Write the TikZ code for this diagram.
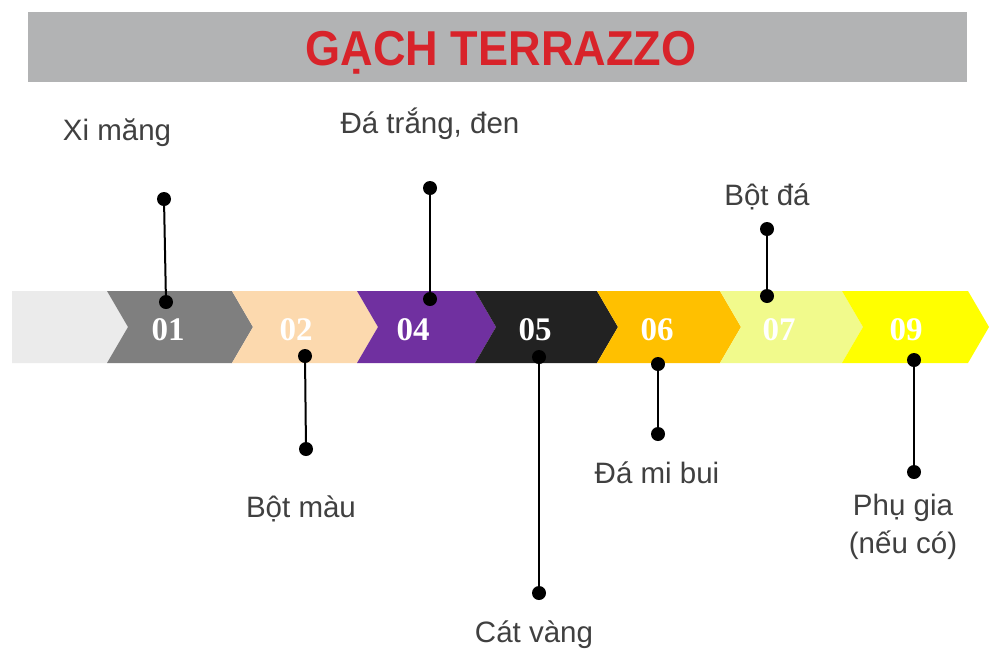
\documentclass[tikz,border=0pt]{standalone}
\usepackage{fontspec}
\setmainfont{Liberation Sans}
\newfontfamily\numfont{Liberation Serif}
\usetikzlibrary{calc}
\definecolor{titlebar}{HTML}{B2B3B4}
\definecolor{titlered}{HTML}{D8232A}
\definecolor{labelgray}{HTML}{404040}
\definecolor{cLight}{HTML}{EBEBEB}
\definecolor{cGray}{HTML}{7F7F7F}
\definecolor{cPeach}{HTML}{FCD9AE}
\definecolor{cPurple}{HTML}{7030A0}
\definecolor{cBlack}{HTML}{222222}
\definecolor{cOrange}{HTML}{FFC000}
\definecolor{cPaleY}{HTML}{F1FA8C}
\definecolor{cYellow}{HTML}{FFFF00}
\begin{document}
\begin{tikzpicture}[x=1pt,y=-1pt,
  dotmark/.style={circle,fill=black,inner sep=0pt,minimum size=14pt},
  leader/.style={line width=2pt,black},
  lbl/.style={text=labelgray,font=\fontsize{29.5}{37}\selectfont,inner sep=0pt,anchor=base,align=center},
  num/.style={text=white,font=\numfont\bfseries\fontsize{33}{36}\selectfont,inner sep=0pt,anchor=base}]
\useasboundingbox (0,0) rectangle (999,662);
\fill[white] (0,0) rectangle (999,662);
% title bar
\fill[titlebar] (28,12) rectangle (967,82);
\node[text=titlered,inner sep=0pt,anchor=base] (title) at (501,65)
  {\scalebox{0.92}[1]{\fontsize{49}{52}\selectfont\bfseries GẠCH TERRAZZO}};
% chevron band
\fill[cLight] (12,291) -- (107,291) -- (128,327) -- (107,363) -- (12,363) -- cycle;
\foreach \L/\R/\c in {107/232/cGray,232/357/cPeach,357/475/cPurple,475/597/cBlack,597/720/cOrange,720/842/cPaleY,842/968/cYellow}{
  \fill[\c] (\L,291) -- (\R,291) -- (\R+21,327) -- (\R,363) -- (\L,363) -- (\L+21,327) -- cycle;
}
% numbers
\node[num] (n01) at (168,340) {01};
\node[num] (n02) at (296,340) {02};
\node[num] (n04) at (413,340) {04};
\node[num] (n05) at (535,340) {05};
\node[num] (n06) at (657,340) {06};
\node[num] (n07) at (779,340) {07};
\node[num] (n09) at (906,340) {09};
% dots
\node[dotmark] (a1) at (164,199) {};
\node[dotmark] (b1) at (166,302) {};
\node[dotmark] (a4) at (430,188) {};
\node[dotmark] (b4) at (430,299) {};
\node[dotmark] (a7) at (767,229) {};
\node[dotmark] (b7) at (767,296) {};
\node[dotmark] (a2) at (305,356) {};
\node[dotmark] (b2) at (306,449) {};
\node[dotmark] (a5) at (539,357) {};
\node[dotmark] (b5) at (539,593) {};
\node[dotmark] (a6) at (658,364) {};
\node[dotmark] (b6) at (658,434) {};
\node[dotmark] (a9) at (914,360) {};
\node[dotmark] (b9) at (914,472) {};
% leaders
\foreach \p in {1,4,7,2,5,6,9}{
  \draw[leader] (a\p.center) -- (b\p.center);
}
% labels
\node[lbl] (l1) at (117,140) {Xi măng};
\node[lbl] (l4) at (430,133) {Đá trắng, đen};
\node[lbl] (l7) at (767,205) {Bột đá};
\node[lbl] (l2) at (301,517) {Bột màu};
\node[lbl] (l5) at (534,642) {Cát vàng};
\node[lbl] (l6) at (657,483) {Đá mi bui};
\node[lbl] (l9a) at (903,515) {Phụ gia};
\node[lbl] (l9b) at (903,553) {(nếu có)};
\end{tikzpicture}
\end{document}
